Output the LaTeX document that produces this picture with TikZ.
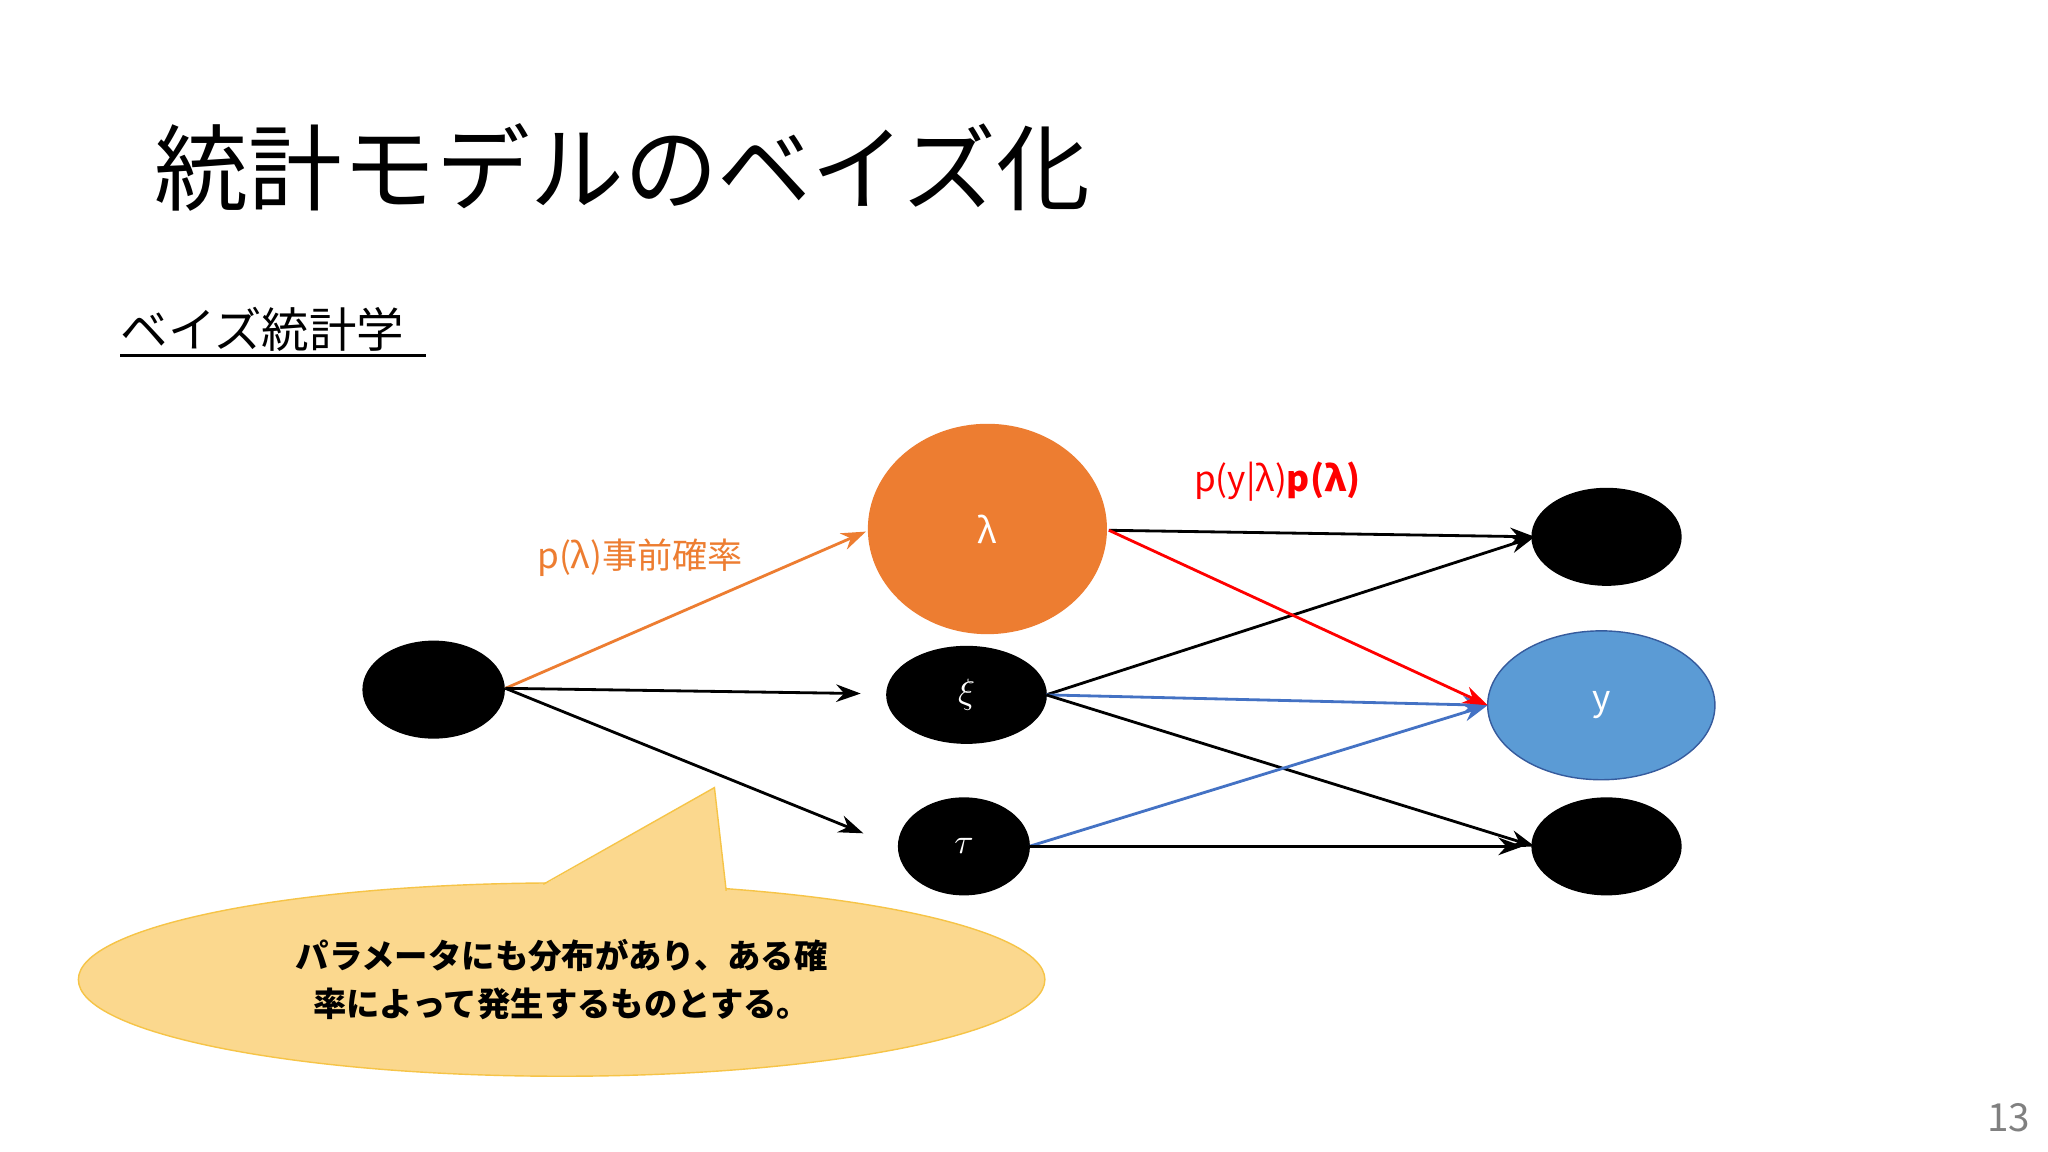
\documentclass[tikz,border=0pt]{standalone}
\usepackage{fontspec}
\newfontfamily\cjk{Noto Sans CJK JP}
\usetikzlibrary{arrows.meta,shapes.geometric}
\definecolor{org}{HTML}{ED7D31}
\definecolor{blu}{HTML}{5B9BD5}
\definecolor{blu2}{HTML}{4472C4}
\definecolor{yel}{HTML}{FBD88E}
\definecolor{yelb}{HTML}{F6C447}
\tikzset{
 blk/.style={ellipse,fill=black,draw=black,inner sep=0pt},
 arr/.style={-{Stealth[length=7pt,width=5pt]},line width=0.8pt},
}
\begin{document}
\begin{tikzpicture}[x=0.01306cm,y=-0.01306cm]
\useasboundingbox (0,0) rectangle (1568,882);
\fill[white] (0,0) rectangle (1568,882);
\node[anchor=west,inner sep=0pt] (title) at (118,128) {\cjk\fontsize{26.7}{30}\selectfont 統計モデルのベイズ化};
\node[anchor=west,inner sep=0pt] (sub) at (92,252) {\cjk\fontsize{13.5}{16}\selectfont ベイズ統計学};
\draw[line width=0.8pt] (92,272) -- (326,272);
\node[blk,minimum width=108*0.01306cm,minimum height=74*0.01306cm] (L) at (332,528) {};
\node[ellipse,fill=org,draw=org,minimum width=182*0.01306cm,minimum height=160*0.01306cm] (lam) at (756,405) {\cjk\fontsize{10}{12}\selectfont\color{white}λ};
\node[blk,minimum width=122*0.01306cm,minimum height=74*0.01306cm,text=white] (xi) at (740,532) {$\xi$};
\node[blk,minimum width=100*0.01306cm,minimum height=74*0.01306cm,text=white] (tau) at (738,648) {$\tau$};
\node[blk,minimum width=114*0.01306cm,minimum height=74*0.01306cm] (R1) at (1230,411) {};
\node[ellipse,fill=blu,draw=blu2!80!black,minimum width=174*0.01306cm,minimum height=114*0.01306cm] (y) at (1226,540) {\cjk\fontsize{10}{12}\selectfont\color{white}y};
\node[blk,minimum width=114*0.01306cm,minimum height=74*0.01306cm] (R3) at (1230,648) {};
\coordinate (l0) at (387,527);
\coordinate (lam0) at (849,406); \coordinate (lamin) at (663,407);
\coordinate (xiin) at (659,531); \coordinate (tauin) at (661,638);
\coordinate (xi0) at (801,532); \coordinate (tau0) at (788,648);
\coordinate (r1) at (1175,411); \coordinate (yin) at (1139,540); \coordinate (r3) at (1175,648); \coordinate (r3b) at (1166,648);
\draw[arr,org] (l0) -- (lamin);
\draw[arr] (l0) -- (xiin);
\draw[arr] (l0) -- (tauin);
\draw[arr] (lam0) -- (r1);
\draw[arr] (xi0) -- (r1);
\draw[arr,blu2] (xi0) -- (yin);
\draw[arr] (xi0) -- (r3);
\draw[arr,blu2] (tau0) -- (yin);
\draw[arr] (tau0) -- (r3b);
\draw[arr,red] (lam0) -- (yin);
\node (lab1) at (490,427) {\cjk\fontsize{10}{12}\selectfont\color{org}p(λ)事前確率};
\node (lab2) at (978,369) {\cjk\fontsize{10}{12}\selectfont\color{red}p(y|λ)\textbf{p(λ)}};
\node[ellipse,fill=yel,draw=yelb,minimum width=740*0.01306cm,minimum height=148*0.01306cm] (call) at (430,750) {};
\fill[yel] (412,680) -- (547,603) -- (556,684) -- cycle;
\draw[yelb] (416,677) -- (547,603) -- (556,682);
\node[align=center,font={\cjk\fontsize{9.5}{13.5}\selectfont\bfseries}] (ct) at (430,750) {パラメータにも分布があり、ある確\\率によって発生するものとする。};
\node (pg) at (1538,856) {\cjk\fontsize{11}{13}\selectfont\color{gray}13};
\end{tikzpicture}
\end{document}
